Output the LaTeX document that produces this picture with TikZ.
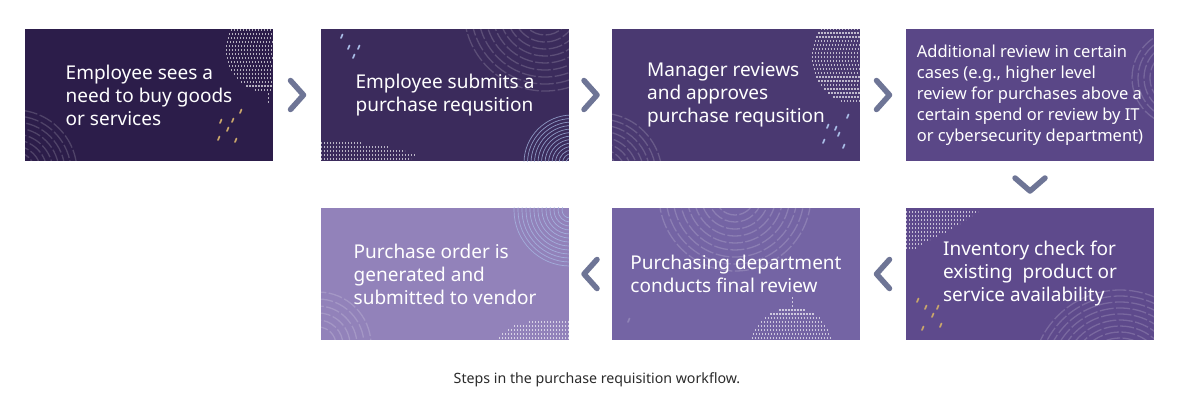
\documentclass[tikz,border=0pt]{standalone}
\usepackage{fontspec}
\setmainfont{Noto Sans}
\usetikzlibrary{positioning,calc}

\definecolor{stepA}{HTML}{2C1D4A}
\definecolor{stepB}{HTML}{3B2B5C}
\definecolor{stepC}{HTML}{4A3971}
\definecolor{stepD}{HTML}{5A4787}
\definecolor{stepE}{HTML}{5E4A8C}
\definecolor{stepF}{HTML}{7464A4}
\definecolor{stepG}{HTML}{9282BA}
\definecolor{chev}{HTML}{6E7596}
\definecolor{gold}{HTML}{C9A66B}
\definecolor{ice}{HTML}{A9BCE6}
\definecolor{capgrey}{HTML}{2B2B2B}

\tikzset{
  stepbox/.style={rectangle, minimum width=248pt, minimum height=132pt, inner sep=0pt,
    text=white, align=left, font=\fontsize{19}{23}\selectfont},
  chevron/.style={draw=chev, line width=5.5pt, line cap=round, line join=round},
  dots/.style={white, line width=1.3pt, dash pattern=on 1.3pt off 1.7pt, opacity=0.65},
  rings/.style={draw=white, opacity=0.17, line width=1.3pt, dash pattern=on 14pt off 2.5pt},
  icerings/.style={draw=ice, opacity=0.75, line width=0.7pt},
  fleck/.style={line width=1.7pt, line cap=round},
}

% half-disc of dotted rows: centre x, centre y, radius
\newcommand\dotdisc[3]{%
  \foreach \k in {-13,...,13}{%
    \pgfmathsetmacro\dy{\k*4}
    \pgfmathsetmacro\hw{sqrt(max(#3*#3-\dy*\dy,0.01))}
    \draw[dots] (#1-\hw,#2+\dy) -- (#1+\hw,#2+\dy);}}
% broken rings: centre x, centre y, first radius, second radius, last radius
\newcommand\ringset[5]{%
  \foreach \r in {#3,#4,...,#5}
    \draw[rings, dash phase=\r pt] (#1,#2) circle[radius=\r];}
% decorations kept inside a box
\newcommand\inbox[2]{\begin{scope}\clip (#1.north west) rectangle (#1.south east); #2\end{scope}}

\begin{document}
\begin{tikzpicture}[x=1pt, y=-1pt]
    \fill[white] (0,0) rectangle (1180,410);
    \useasboundingbox (0,0) rectangle (1180,410);

    % top row
    \node[stepbox, fill=stepA] (need) at (149,95) {Employee sees a\\need to buy goods\\or services};
    \node[stepbox, fill=stepB] (submit) at (445,95) {Employee submits a\\purchase requsition};
    \node[stepbox, fill=stepC] (approve) at (736,95) {Manager reviews\\and approves\\purchase requsition};
    \node[stepbox, fill=stepD, font=\fontsize{16.5}{21}\selectfont] (extra) at (1030,95)
        {Additional review in certain\\cases (e.g., higher level\\review for purchases above a\\certain spend or review by IT\\or cybersecurity department)};
    % bottom row
    \node[stepbox, fill=stepE] (stock) at (1030,274) {Inventory check for\\existing~ product or\\service availability};
    \node[stepbox, fill=stepF] (final) at (736,274) {Purchasing department\\conducts final review};
    \node[stepbox, fill=stepG] (order) at (445,274) {Purchase order is\\generated and\\submitted to vendor};

    % decorations
    \inbox{need}{\dotdisc{268}{50}{42} \ringset{15}{172}{20}{26}{64}
      \foreach \x/\y in {240/113,220/123,232/122,227/131,218/140,235/142}
        \draw[fleck, gold] (\x,\y) -- ++(1.5,-3.5);}
    \inbox{submit}{\ringset{545}{10}{25}{32}{81}
      \foreach \r in {6,9.5,...,48} \draw[icerings] (572,163) circle[radius=\r];
      \foreach \y/\l in {143/40,147/68,151/84,155/95,159/90} \draw[dots] (321,\y) -- ++(\l,0);
      \foreach \x/\y in {341/38,348/49,358/49,353/58} \draw[fleck, ice] (\x,\y) -- ++(1.5,-3.5);}
    \inbox{approve}{\dotdisc{860}{57}{48} \ringset{600}{175}{20}{26}{64}
      \foreach \x/\y in {847/118,827/128,835/130,838/136,823/143,843/148}
        \draw[fleck, ice] (\x,\y) -- ++(1.5,-3.5);}
    \inbox{extra}{\ringset{1180}{78}{18}{24}{48}}
    \inbox{order}{\foreach \r in {8,12,...,56} \draw[icerings] (570,210) circle[radius=\r];
      \ringset{318}{345}{18}{25}{53}
      \foreach \y/\l in {322/40,326/55,330/62,334/68,338/70} \draw[dots] (569,\y) -- ++(-\l,0);}
    \inbox{final}{\ringset{735}{195}{20}{27}{76} \dotdisc{792}{350}{42}
      \draw[fleck, white, opacity=0.2] (628,322) -- ++(1.5,-3.5);}
    \inbox{stock}{\ringset{1120}{378}{40}{46}{88}
      \foreach \y/\l in {212/72,216/66,220/60,224/54,228/47,232/40,236/32,240/24,244/16,248/10}
        \draw[dots] (906,\y) -- ++(\l,0);
      \foreach \x/\y in {917/302,925/309,937/309,932/317,922/330,940/327}
        \draw[fleck, gold] (\x,\y) -- ++(1.5,-3.5);}

    % chevrons between the steps
    \draw[chevron] ($(need.east)!0.5!(submit.west)$) ++(-6.5,-14.5) -- ++(13,14.5) -- ++(-13,14.5);
    \draw[chevron] ($(submit.east)!0.5!(approve.west)$) ++(-6.5,-14.5) -- ++(13,14.5) -- ++(-13,14.5);
    \draw[chevron] ($(approve.east)!0.5!(extra.west)$) ++(-6.5,-14.5) -- ++(13,14.5) -- ++(-13,14.5);
    \draw[chevron] ($(extra.south)!0.5!(stock.north)$) ++(-15,-6.5) -- ++(15,13) -- ++(15,-13);
    \draw[chevron] ($(stock.west)!0.5!(final.east)$) ++(6.5,-14.5) -- ++(-13,14.5) -- ++(13,14.5);
    \draw[chevron] ($(final.west)!0.5!(order.east)$) ++(6.5,-14.5) -- ++(-13,14.5) -- ++(13,14.5);

    \node[font=\fontsize{14.2}{16}\selectfont, text=capgrey] (caption) at (597,380)
        {Steps in the purchase requisition workflow.};
\end{tikzpicture}
\end{document}
